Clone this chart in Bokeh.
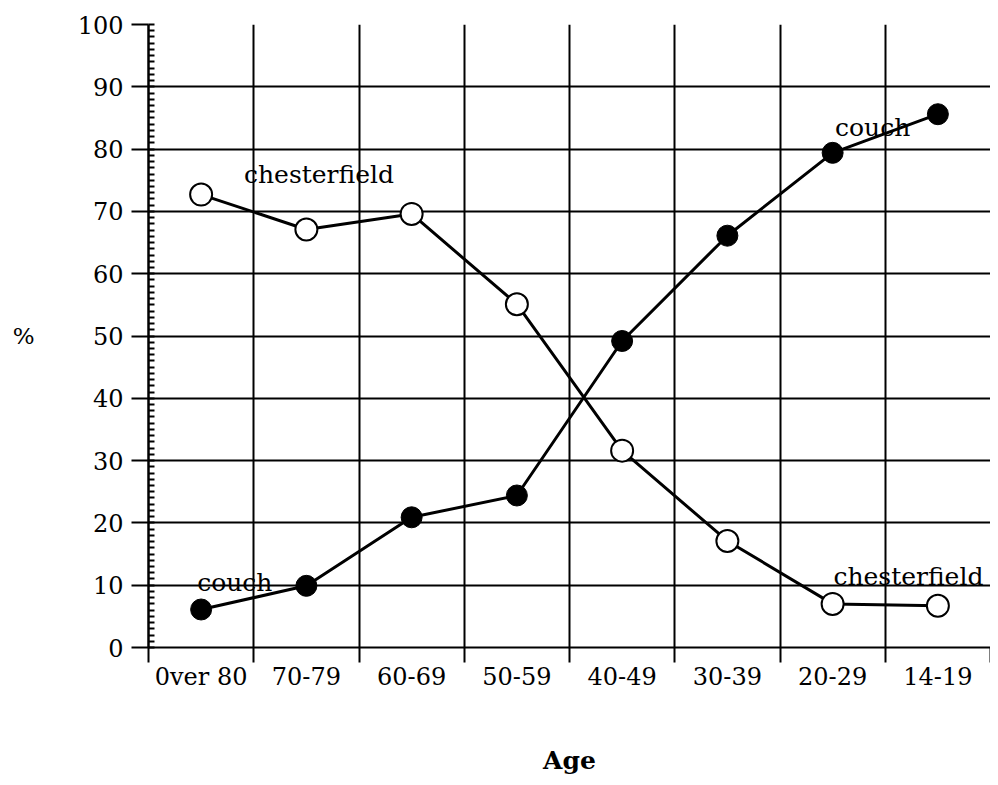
from bokeh.plotting import figure
from bokeh.models import FixedTicker, Range1d, ColumnDataSource
from bokeh.core.properties import value
from bokeh.embed import file_html
from bokeh.resources import INLINE

ages = ["0ver 80", "70-79", "60-69", "50-59", "40-49", "30-39", "20-29", "14-19"]
chesterfield = [72.7, 67.1, 69.6, 55.1, 31.6, 17.1, 7.0, 6.7]
couch = [6.1, 9.9, 20.9, 24.4, 49.2, 66.1, 79.4, 85.6]
y_ticks = list(range(0, 101, 10))

label_text = ["chesterfield", "couch", "couch", "chesterfield"]
label_x = [1.62, 0.82, 6.88, 7.22]
label_y = [75.9, 10.5, 83.5, 11.4]

FONT = "DejaVu Serif"

xpos = [i + 0.5 for i in range(len(ages))]
src = ColumnDataSource(dict(x=xpos, ches=chesterfield, couch=couch))

p = figure(width=990, height=777, output_backend="svg", toolbar_location=None,
           x_range=Range1d(0, len(ages)), y_range=Range1d(0, 100))
p.min_border_left = 148
p.min_border_right = 0
p.min_border_top = 24
p.min_border_bottom = 127
p.outline_line_color = None
p.background_fill_color = "white"
p.border_fill_color = "white"

# x axis: labels at category centres, boundary ticks as minor ticks
xt = FixedTicker(ticks=xpos, minor_ticks=list(range(len(ages) + 1)))
p.xaxis.ticker = xt
p.xgrid.ticker = xt
p.xaxis.major_label_overrides = {x: a for x, a in zip(xpos, ages)}
p.xaxis.major_tick_line_color = None
p.xaxis.major_tick_out = 0
p.xaxis.major_tick_in = 0
p.xaxis.minor_tick_out = 15
p.xaxis.minor_tick_in = 0
p.xaxis.minor_tick_line_color = "black"
p.xaxis.minor_tick_line_width = 2
p.xaxis.axis_line_width = 2
p.xaxis.axis_line_color = "black"
p.xaxis.major_label_standoff = 0
p.xaxis.major_label_text_font = FONT
p.xaxis.major_label_text_font_size = "24px"
p.xaxis.major_label_text_color = "black"
p.xaxis.axis_label = "Age"
p.xaxis.axis_label_text_font = FONT
p.xaxis.axis_label_text_font_style = "bold"
p.xaxis.axis_label_text_font_size = "25px"
p.xaxis.axis_label_text_color = "black"
p.xaxis.axis_label_standoff = 52
p.xgrid.grid_line_color = None
p.xgrid.minor_grid_line_color = "black"
p.xgrid.minor_grid_line_width = 2

# y axis
yt = FixedTicker(ticks=y_ticks, minor_ticks=list(range(0, 101)))
p.yaxis.ticker = yt
p.ygrid.ticker = yt
p.yaxis.major_tick_out = 17
p.yaxis.major_tick_in = 0
p.yaxis.major_tick_line_width = 2
p.yaxis.major_tick_line_color = "black"
p.yaxis.minor_tick_in = 6
p.yaxis.minor_tick_out = 0
p.yaxis.minor_tick_line_width = 2
p.yaxis.minor_tick_line_color = "black"
p.yaxis.axis_line_width = 2.5
p.yaxis.axis_line_color = "black"
p.yaxis.major_label_standoff = 8
p.yaxis.major_label_text_font = FONT
p.yaxis.major_label_text_font_size = "24px"
p.yaxis.major_label_text_color = "black"
p.yaxis.axis_label = "%"
p.yaxis.axis_label_orientation = "horizontal"
p.yaxis.axis_label_text_font = FONT
p.yaxis.axis_label_text_font_style = "normal"
p.yaxis.axis_label_text_font_size = "23px"
p.yaxis.axis_label_text_color = "black"
p.yaxis.axis_label_standoff = 40
p.ygrid.grid_line_color = "black"
p.ygrid.grid_line_width = 2

# series
p.line("x", "ches", source=src, line_color="black", line_width=3)
p.line("x", "couch", source=src, line_color="black", line_width=3)
p.scatter("x", "ches", source=src, size=22, marker="circle", fill_color="white",
          line_color="black", line_width=2)
p.scatter("x", "couch", source=src, size=21, marker="circle", fill_color="black",
          line_color="black", line_width=1)

lsrc = ColumnDataSource(dict(x=label_x, y=label_y, t=label_text))
p.text("x", "y", text="t", source=lsrc, text_font=value(FONT), text_font_size="25px",
       text_align="center", text_baseline="alphabetic", text_color="black")

open("out.html", "w").write(file_html(p, INLINE))
